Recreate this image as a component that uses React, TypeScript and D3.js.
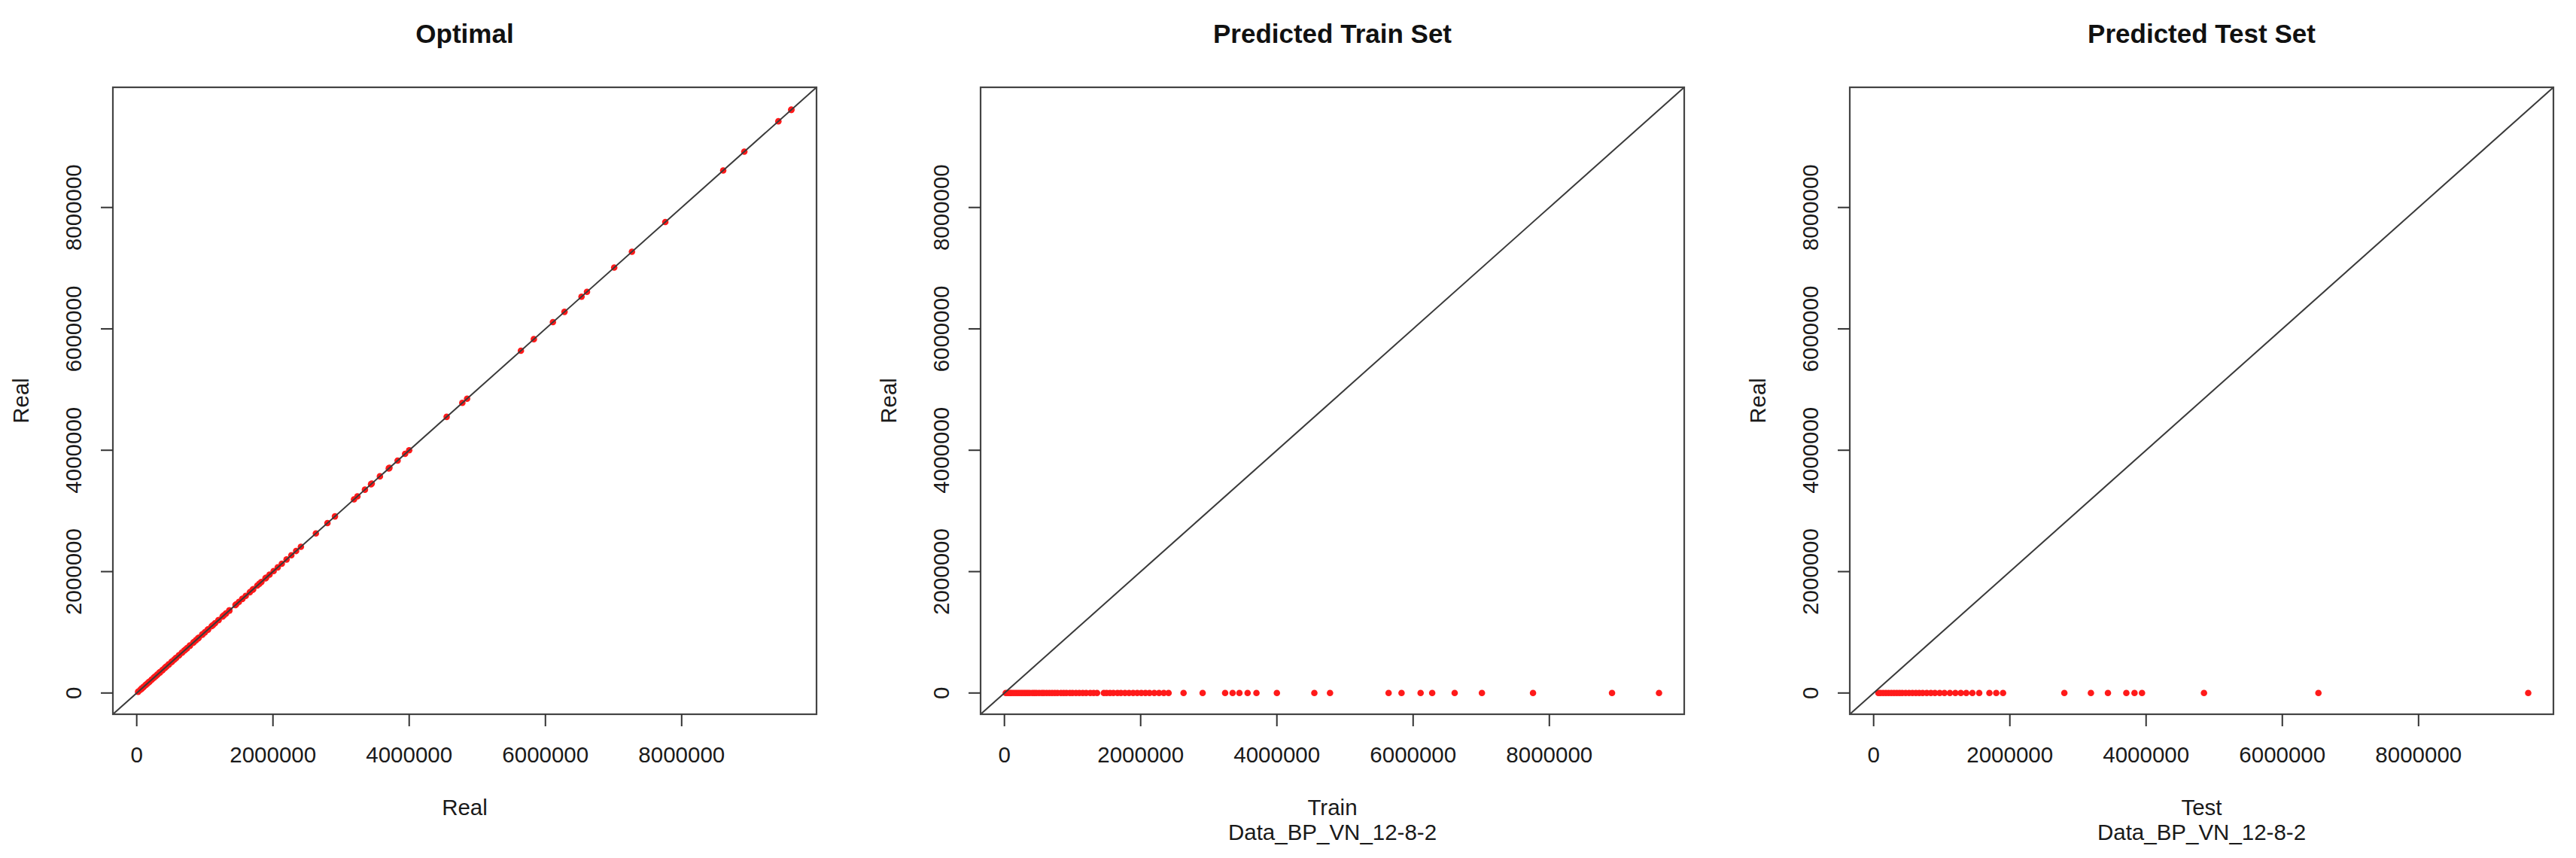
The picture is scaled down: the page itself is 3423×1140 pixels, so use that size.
import React from "react";
import * as d3 from "d3";

// ---- Data (in units) ----
const trainReal: number[] = [
  0.02, 0.05, 0.08, 0.10, 0.13, 0.16, 0.19, 0.22, 0.25, 0.28, 0.31, 0.34, 0.37, 0.41, 0.44, 0.47,
  0.51, 0.55, 0.58, 0.62, 0.66, 0.70, 0.74, 0.78, 0.83, 0.87, 0.91, 0.96, 1.00, 1.05, 1.10, 1.15,
  1.20, 1.26, 1.31, 1.36, 1.46, 1.50, 1.55, 1.60, 1.66, 1.71, 1.77, 1.83, 1.89, 1.95, 2.01, 2.07,
  2.13, 2.20, 2.27, 2.34, 2.41, 2.63, 2.91, 3.24, 3.35, 3.45, 3.57, 3.70, 4.00, 4.55, 4.78, 5.64,
  5.83, 6.11, 6.28, 6.61, 7.01, 7.76, 8.92, 9.61,
].map((v) => v * 1e6);

const testReal: number[] = [
  0.07, 0.10, 0.14, 0.18, 0.22, 0.26, 0.30, 0.34, 0.38, 0.42, 0.47, 0.52, 0.57, 0.62, 0.67, 0.72,
  0.78, 0.84, 0.90, 0.97, 1.04, 1.12, 1.20, 1.28, 1.36, 1.45, 1.55, 1.70, 1.80, 1.90, 2.80, 3.19,
  3.44, 3.71, 3.83, 3.94, 4.85, 6.53, 9.61,
].map((v) => v * 1e6);

// points visible only on the "Optimal" panel
const otherReal: number[] = [7.27, 8.61, 9.42].map((v) => v * 1e6);

// predicted values are all ~0
const trainPred: number[] = trainReal.map(() => 0);
const testPred: number[] = testReal.map(() => 0);

const allReal: number[] = [...trainReal, ...testReal, ...otherReal];

const tickValues: number[] = [0, 2000000, 4000000, 6000000, 8000000];
const axisDomain: [number, number] = [-350000, 9980000];

const titles = ["Optimal", "Predicted Train Set", "Predicted Test Set"];
const xLabels = [["Real"], ["Train", "Data_BP_VN_12-8-2"], ["Test", "Data_BP_VN_12-8-2"]];
const yLabel = "Real";

// ---- Layout ----
const W = 3423;
const H = 1140;
const panelLefts = [150, 1303, 2458];
const plotW = 935;
const plotTop = 116;
const plotH = 833;
const FONT = "'Liberation Sans', Arial, Helvetica, sans-serif";
const baseSize = 29.5;

interface PanelProps {
  left: number;
  title: string;
  xlab: string[];
  xs: number[];
  ys: number[];
}

function Panel({ left, title, xlab, xs, ys }: PanelProps) {
  const x = d3.scaleLinear().domain(axisDomain).range([left, left + plotW]);
  const y = d3.scaleLinear().domain(axisDomain).range([plotTop + plotH, plotTop]);
  const bottom = plotTop + plotH;
  const tickLen = 16;
  return (
    <g>
      <text
        x={left + plotW / 2}
        y={57}
        textAnchor="middle"
        fontFamily={FONT}
        fontWeight="bold"
        fontSize={35}
        fill="#111"
      >
        {title}
      </text>
      <g>
        {xs.map((xv, i) => (
          <circle key={i} cx={x(xv)} cy={y(ys[i])} r={4.3} fill="#ff1a1a" />
        ))}
      </g>
      <line
        x1={x(axisDomain[0])}
        y1={y(axisDomain[0])}
        x2={x(axisDomain[1])}
        y2={y(axisDomain[1])}
        stroke="#3a3a3a"
        strokeWidth={2}
      />
      <rect x={left} y={plotTop} width={plotW} height={plotH} fill="none" stroke="#444" strokeWidth={2.2} />
      {tickValues.map((t) => (
        <g key={"x" + t}>
          <line x1={x(t)} x2={x(t)} y1={bottom} y2={bottom + tickLen} stroke="#333" strokeWidth={2} />
          <text
            x={x(t)}
            y={1013}
            textAnchor="middle"
            fontFamily={FONT}
            fontSize={baseSize}
            fill="#1a1a1a"
          >
            {String(t)}
          </text>
        </g>
      ))}
      {tickValues.map((t) => (
        <g key={"y" + t}>
          <line x1={left - tickLen} x2={left} y1={y(t)} y2={y(t)} stroke="#333" strokeWidth={2} />
          <text
            transform={`translate(${left - 42},${y(t)}) rotate(-90)`}
            textAnchor="middle"
            fontFamily={FONT}
            fontSize={baseSize}
            fill="#1a1a1a"
          >
            {String(t)}
          </text>
        </g>
      ))}
      {xlab.map((s, i) => (
        <text
          key={s + i}
          x={left + plotW / 2}
          y={1083 + i * 33}
          textAnchor="middle"
          fontFamily={FONT}
          fontSize={baseSize}
          fill="#1a1a1a"
        >
          {s}
        </text>
      ))}
      <text
        transform={`translate(${left - 112},${plotTop + plotH / 2}) rotate(-90)`}
        textAnchor="middle"
        fontFamily={FONT}
        fontSize={baseSize}
        fill="#1a1a1a"
      >
        {yLabel}
      </text>
    </g>
  );
}

export default function App() {
  const panels = [
    { xs: allReal, ys: allReal },
    { xs: trainReal, ys: trainPred },
    { xs: testReal, ys: testPred },
  ];
  return (
    <svg
      width={W}
      height={H}
      viewBox={`0 0 ${W} ${H}`}
      style={{ position: "absolute", left: 0, top: 0, display: "block", background: "#fff" }}
    >
      <rect x={0} y={0} width={W} height={H} fill="#fff" />
      {panels.map((p, i) => (
        <Panel key={i} left={panelLefts[i]} title={titles[i]} xlab={xLabels[i]} xs={p.xs} ys={p.ys} />
      ))}
    </svg>
  );
}
